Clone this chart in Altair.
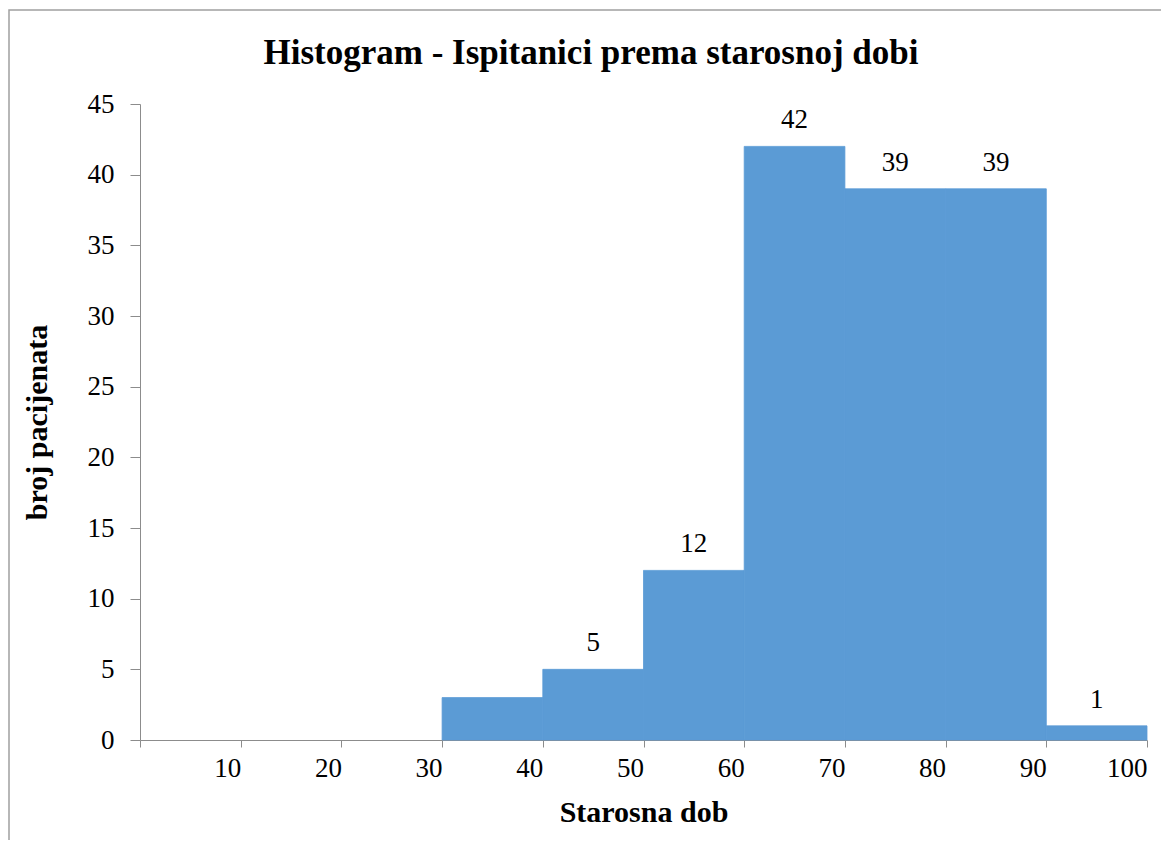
import altair as alt
import pandas as pd

bin_start = [0, 10, 20, 30, 40, 50, 60, 70, 80, 90]
bin_end = [10, 20, 30, 40, 50, 60, 70, 80, 90, 100]
counts = [0, 0, 0, 3, 5, 12, 42, 39, 39, 1]
labels = ["", "", "", "", "5", "12", "42", "39", "39", "1"]
x_ticks = [0, 10, 20, 30, 40, 50, 60, 70, 80, 90, 100]
y_ticks = [0, 5, 10, 15, 20, 25, 30, 35, 40, 45]
title_text = "Histogram - Ispitanici prema starosnoj dobi"

df = pd.DataFrame({
    "start": bin_start,
    "end": bin_end,
    "count": counts,
    "label": labels,
    "mid": [(a + b) / 2 for a, b in zip(bin_start, bin_end)],
})

FONT = "Liberation Serif, Times New Roman, serif"
AXIS_COLOR = "#8c8c8c"
BAR_COLOR = "#5B9BD5"

x_enc = alt.X(
    "start:Q",
    scale=alt.Scale(domain=[0, 100], nice=False, zero=False),
    axis=alt.Axis(
        values=x_ticks,
        title="Starosna dob",
        labelAlign="right",
        labelExpr="datum.value == 0 ? '' : datum.label",
        labelFontSize=27,
        labelFont=FONT,
        labelColor="black",
        labelPadding=8,
        titleFont=FONT,
        titleFontSize=30,
        titleFontWeight="bold",
        titleColor="black",
        titlePadding=16,
        tickSize=7,
        tickColor=AXIS_COLOR,
        domainColor=AXIS_COLOR,
        grid=False,
    ),
)

y_enc = alt.Y(
    "count:Q",
    scale=alt.Scale(domain=[0, 45], nice=False),
    axis=alt.Axis(
        values=y_ticks,
        title="broj pacijenata",
        labelFontSize=27,
        labelFont=FONT,
        labelColor="black",
        labelPadding=16,
        titleFont=FONT,
        titleFontSize=30,
        titleFontWeight="bold",
        titleColor="black",
        titlePadding=35,
        tickSize=10,
        tickColor=AXIS_COLOR,
        domainColor=AXIS_COLOR,
        grid=False,
    ),
)

bars = alt.Chart(df).transform_filter("datum.count > 0").mark_rect(
    color=BAR_COLOR, stroke=BAR_COLOR, strokeWidth=0.8
).encode(
    x=x_enc,
    x2="end:Q",
    y=y_enc,
    y2=alt.datum(0),
)

text = alt.Chart(df).mark_text(
    font=FONT, fontSize=27, color="black", baseline="alphabetic", dy=-18
).encode(
    x=alt.X("mid:Q"),
    y=alt.Y("count:Q"),
    text="label:N",
)

title = alt.Chart(pd.DataFrame({"t": [title_text]})).mark_text(
    font=FONT, fontSize=35, fontWeight="bold", color="black",
    align="center", baseline="middle"
).encode(
    x=alt.value(451), y=alt.value(-51), text="t:N"
)

border = alt.Chart(pd.DataFrame({"a": [0]})).mark_rect(
    fill=None, stroke="#a0a0a0", strokeWidth=1.5
).encode(
    x=alt.value(-131), x2=alt.value(1023), y=alt.value(-94), y2=alt.value(790)
)

chart = alt.layer(border, bars, text, title).properties(
    width=1007,
    height=636,
    autosize=alt.AutoSizeParams(type="none"),
    padding={"left": 132, "top": 96, "right": 14, "bottom": 100},
).configure(background="white").configure_view(stroke=None)

chart.save("out.html", embed_options={"renderer": "svg", "actions": False})
